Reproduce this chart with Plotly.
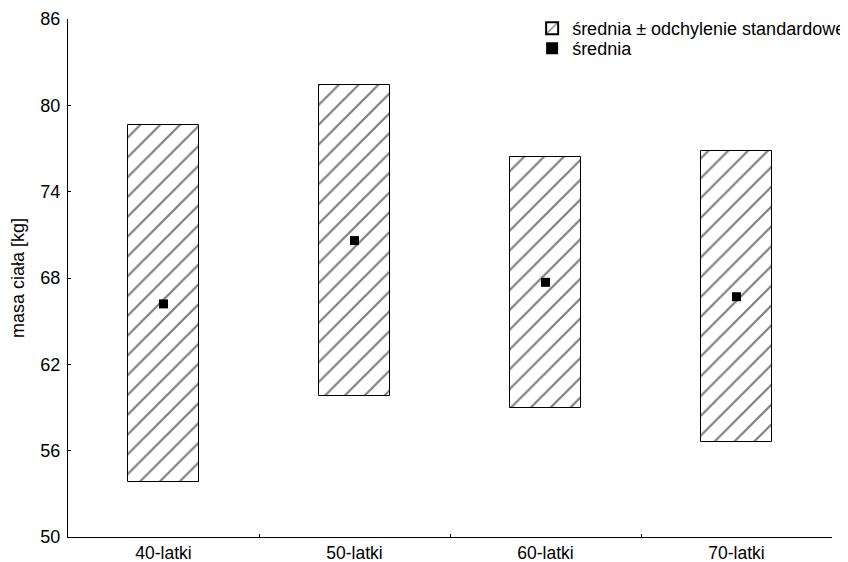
import plotly.graph_objects as go

categories = ["40-latki", "50-latki", "60-latki", "70-latki"]
means = [66.2, 70.6, 67.7, 66.7]
sds = [12.4, 10.8, 8.7, 10.1]
y_ticks = [50, 56, 62, 68, 74, 80, 86]

lows = [m - s for m, s in zip(means, sds)]
spans = [2 * s for s in sds]

FONT = "Liberation Sans, Arial, sans-serif"

fig = go.Figure()
fig.add_trace(go.Bar(
    x=categories, y=spans, base=lows, width=0.37,
    name="średnia ± odchylenie standardowe", legend="legend",
    marker=dict(color="white",
                line=dict(color="black", width=1),
                pattern=dict(shape="/", size=14, solidity=0.16,
                             fgcolor="black", bgcolor="white",
                             fillmode="overlay")),
    hoverinfo="skip",
))
fig.add_trace(go.Scatter(
    x=categories, y=means, mode="markers", name="średnia", legend="legend2",
    marker=dict(symbol="square", size=9, color="black"),
))

legend_common = dict(xanchor="left", yanchor="top", bgcolor="rgba(0,0,0,0)",
                     font=dict(size=18), tracegroupgap=0, itemsizing="constant")

fig.update_layout(
    width=840, height=554,
    margin=dict(l=60, r=16, t=11, b=25, autoexpand=False),
    paper_bgcolor="white", plot_bgcolor="white",
    font=dict(family=FONT, size=18, color="black"),
    showlegend=True,
    legend=dict(x=0.6075, y=1.0174, **legend_common),
    legend2=dict(x=0.6075, y=1.0174 - 20 / 518, **legend_common),
    bargap=0,
)
fig.update_xaxes(
    showline=True, linecolor="black", linewidth=1, mirror=False,
    ticks="inside", ticklen=3, tickcolor="black", tickson="boundaries",
    showgrid=False, zeroline=False, range=[-0.5, 3.5], automargin=False,
    tickfont=dict(size=17.5),
)
fig.update_yaxes(
    range=[50, 86], tickvals=y_ticks, showline=True, linecolor="black",
    linewidth=1, ticks="inside", ticklen=3, tickcolor="black",
    showgrid=False, zeroline=False, automargin=False, ticklabelstandoff=3,
    title=dict(text="masa ciała [kg]", standoff=14, font=dict(size=18)),
)

fig.write_html("out.html")
